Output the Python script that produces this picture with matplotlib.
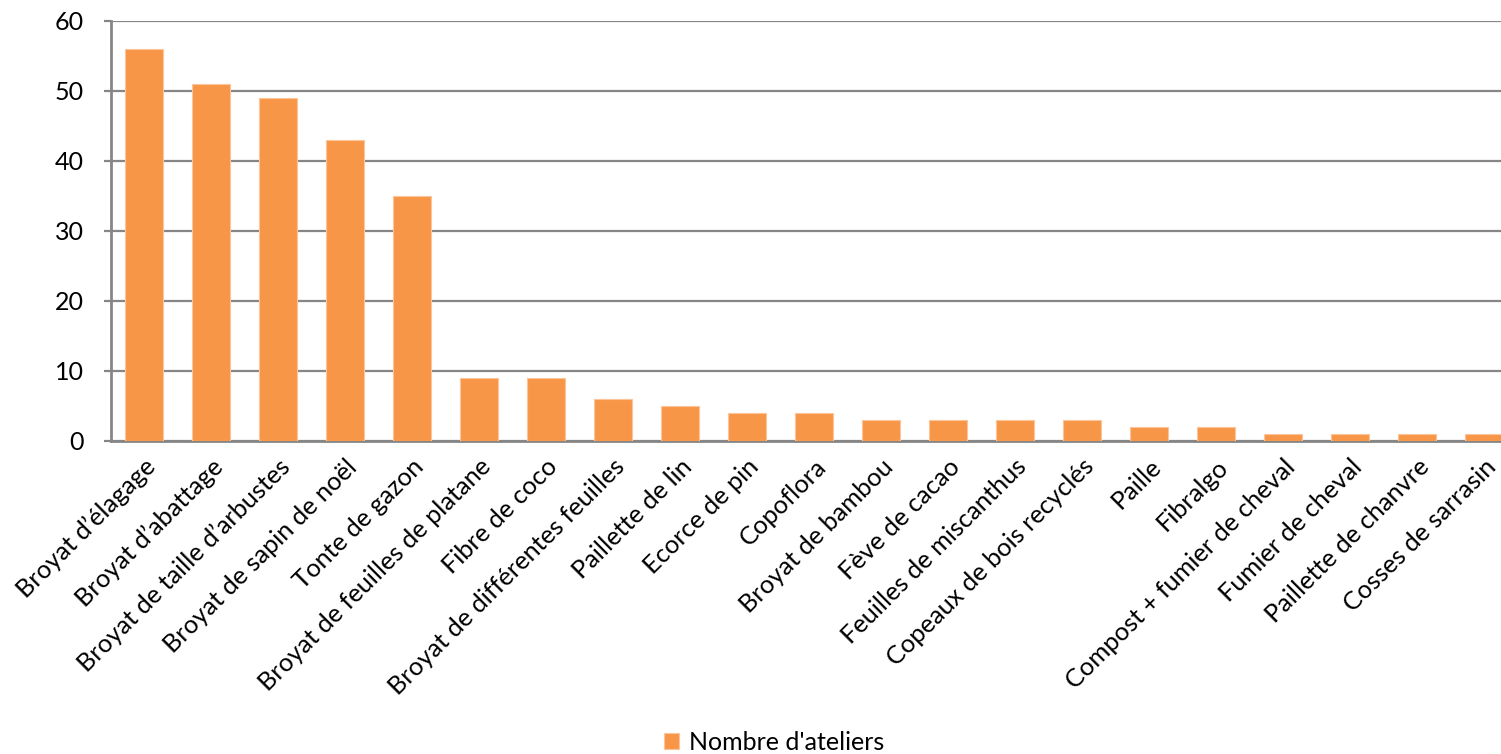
import matplotlib.pyplot as plt

categories = [
    "Broyat d’élagage", "Broyat d’abattage", "Broyat de taille d’arbustes",
    "Broyat de sapin de noël", "Tonte de gazon", "Broyat de feuilles de platane",
    "Fibre de coco", "Broyat de différentes feuilles", "Paillette de lin",
    "Ecorce de pin", "Copoflora", "Broyat de bambou", "Fève de cacao",
    "Feuilles de miscanthus", "Copeaux de bois recyclés", "Paille", "Fibralgo",
    "Compost + fumier de cheval", "Fumier de cheval", "Paillette de chanvre",
    "Cosses de sarrasin",
]
values = [56, 51, 49, 43, 35, 9, 9, 6, 5, 4, 4, 3, 3, 3, 3, 2, 2, 1, 1, 1, 1]
series_name = "Nombre d'ateliers"

plt.rcParams['font.family'] = ['Lato', 'DejaVu Sans']

fig = plt.figure(figsize=(15.01, 7.54), dpi=100)
# plot area runs slightly past the right edge, as in the original
ax = fig.add_axes([110.5 / 1501, 1 - 441 / 754, 1407 / 1501, 420 / 754])

x = range(len(categories))
ax.bar(x, values, width=0.57, color='#F79646', edgecolor='#FBC49A',
       linewidth=0.8, label=series_name, zorder=3)

ax.set_xlim(-0.5, len(categories) - 0.5)
ax.set_ylim(0, 60)
ax.set_yticks(range(0, 61, 10))
ax.yaxis.grid(True, color='#868686', linewidth=1.6, zorder=0)
ax.set_axisbelow(True)

ax.set_xticks(list(x))
ax.set_xticklabels(categories, rotation=45, ha='right', rotation_mode='anchor',
                   fontsize=18.3, color='black')
ax.tick_params(axis='x', length=0, pad=10)
ax.tick_params(axis='y', length=5, width=1.6, color='#868686', labelsize=18, pad=14)

for side in ('top', 'right'):
    ax.spines[side].set_visible(False)
for side in ('left', 'bottom'):
    ax.spines[side].set_color('#868686')
    ax.spines[side].set_linewidth(2)

fig.legend(loc='center', bbox_to_anchor=(774 / 1501, 1 - 742 / 754), frameon=False,
           fontsize=18, handlelength=0.6, handleheight=0.6, handletextpad=0.4)

fig.savefig('out.png', dpi=100)
